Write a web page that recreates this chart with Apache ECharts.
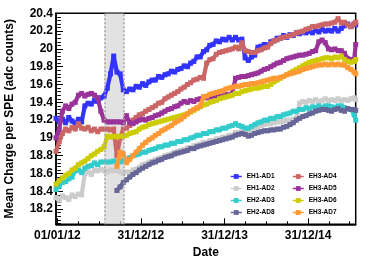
<!DOCTYPE html>
<html><head><meta charset="utf-8">
<script src="https://cdn.jsdelivr.net/npm/echarts@6/dist/echarts.min.js"></script>
<style>html,body{margin:0;padding:0;background:#fff}#c{width:374px;height:266px}</style>
</head><body><div id="c"></div>
<script>
// x positions: days since 01/01/2012
const days = [-6,8,22,36,50,64,78,92,106,120,
134,148,162,176,190,204,218,232,246,260,
274,288,302,316,330,344,358,372,386,400,
414,428,442,456,470,484,498,512,526,540,
554,568,582,596,610,624,638,652,666,680,
694,708,722,736,750,764,778,792,806,820,
834,848,862,876,890,904,918,932,946,960,
974,988,1002,1016,1030,1044,1058,1072,1086,1100,
1114,1128,1142,1156,1170,1184,1198,1212,1226,1240,
1254,1268,1282,1296,1303];

const eh1ad1 = [19.22,19.18,19.21,19.17,19.23,19.19,19.16,19.21,19.18,19.36,
19.39,19.38,19.42,19.41,19.45,19.47,19.56,19.72,19.92,19.74,
19.72,19.54,19.52,19.55,19.54,19.58,19.57,19.61,19.59,19.63,
19.65,19.65,19.69,19.68,19.71,19.72,19.75,19.74,19.77,19.78,
19.81,19.80,19.84,19.86,19.91,19.91,19.97,19.99,20.04,20.05,
20.09,20.08,20.11,20.10,20.13,20.10,20.13,20.10,20.11,19.90,
19.87,19.91,19.93,20.02,20.03,20.05,20.04,20.08,20.09,20.12,
20.12,20.15,20.13,20.16,20.15,20.18,20.17,20.19,20.18,20.20,
20.18,20.21,20.19,20.22,20.20,20.21,20.20,20.23,20.20,20.23,
20.26,20.28,20.25,20.28,20.27];

const eh1ad2 = [18.33,18.30,18.35,18.33,18.31,18.36,18.34,18.37,18.36,18.60,
18.62,18.59,18.64,18.63,18.65,18.63,18.62,18.64,18.63,18.64,
18.62,18.60,18.62,18.61,18.64,18.65,18.67,18.70,18.71,18.73,
18.74,18.76,18.77,18.78,18.80,18.81,18.82,18.84,18.85,18.86,
18.87,18.89,18.89,18.91,18.92,18.93,18.95,18.95,18.97,18.97,
18.99,18.99,19.01,19.01,19.03,19.03,19.06,19.06,19.08,19.07,
19.06,19.08,19.12,19.12,19.14,19.15,19.16,19.16,19.17,19.18,
19.18,19.19,19.20,19.20,19.21,19.22,19.39,19.41,19.40,19.42,
19.41,19.43,19.41,19.42,19.44,19.42,19.43,19.42,19.44,19.42,
19.43,19.42,19.44,19.45,19.43];

const eh2ad3 = [18.42,18.46,18.50,18.51,18.54,18.56,18.63,18.64,18.61,18.66,
18.68,18.69,18.72,18.70,18.73,18.73,18.73,18.73,18.74,18.73,
18.73,18.75,18.76,18.78,18.80,18.81,18.82,18.84,18.84,18.86,
18.87,18.88,18.90,18.90,18.92,18.92,18.94,18.94,18.96,18.96,
18.98,18.98,19.00,19.01,19.03,19.03,19.05,19.05,19.07,19.07,
19.09,19.09,19.11,19.11,19.13,19.14,19.16,19.14,19.13,19.11,
19.11,19.13,19.15,19.17,19.18,19.20,19.20,19.22,19.22,19.24,
19.24,19.26,19.27,19.28,19.30,19.30,19.32,19.32,19.34,19.33,
19.35,19.34,19.36,19.34,19.36,19.36,19.35,19.34,19.36,19.36,
19.34,19.33,19.32,19.26,19.20];

const eh2ad8 = [null,null,null,null,null,null,null,null,null,null,
null,null,null,null,null,null,null,null,null,18.41,
18.45,18.50,18.53,18.56,18.59,18.61,18.64,18.66,18.68,18.70,
18.72,18.73,18.75,18.76,18.78,18.79,18.80,18.82,18.83,18.84,
18.85,18.86,18.88,18.88,18.90,18.91,18.92,18.93,18.94,18.95,
18.96,18.97,18.98,18.99,19.00,19.01,19.03,19.04,19.05,19.04,
19.02,19.03,19.05,19.06,19.07,19.08,19.08,19.09,19.09,19.10,
19.10,19.12,19.13,19.15,19.17,19.20,19.22,19.24,19.25,19.27,
19.28,19.30,19.31,19.32,19.32,19.31,19.30,19.32,19.33,19.31,
19.30,19.33,19.32,19.32,19.31];

const eh3ad4 = [18.85,18.96,19.05,19.10,19.08,19.12,19.10,19.16,19.11,19.10,
19.12,19.08,19.10,19.07,19.10,19.10,19.10,19.09,19.10,18.80,
19.00,19.10,19.11,19.14,19.20,19.23,19.26,19.27,19.30,19.32,
19.34,19.36,19.39,19.40,19.44,19.46,19.48,19.50,19.52,19.55,
19.57,19.60,19.62,19.65,19.66,19.68,19.67,19.84,19.88,19.89,
19.94,19.96,19.97,19.98,19.99,20.00,20.02,20.00,20.07,19.98,
19.97,19.96,19.96,19.98,19.99,20.01,20.02,20.06,20.09,20.10,
20.12,20.13,20.14,20.15,20.16,20.18,20.19,20.20,20.22,20.23,
20.25,20.25,20.26,20.27,20.28,20.28,20.29,20.30,20.34,20.29,
20.30,20.27,20.25,20.28,20.30];

const eh3ad5 = [19.00,19.10,19.30,19.36,19.33,19.38,19.40,19.48,19.50,19.47,
19.49,19.50,19.48,19.45,19.30,19.20,19.18,19.18,19.18,19.18,
19.18,19.17,19.25,19.17,19.16,19.18,19.20,19.21,19.20,19.22,
19.23,19.25,19.26,19.28,19.30,19.32,19.33,19.35,19.36,19.39,
19.41,19.40,19.42,19.41,19.43,19.44,19.46,19.45,19.46,19.47,
19.47,19.48,19.47,19.49,19.48,19.50,19.67,19.68,19.69,19.69,
19.70,19.71,19.72,19.73,19.75,19.77,19.78,19.80,19.82,19.84,
19.85,19.87,19.89,19.90,19.91,19.92,19.93,19.93,19.94,19.95,
19.97,19.98,20.08,20.10,20.07,20.00,19.99,20.00,19.98,19.98,
19.95,19.89,19.88,19.87,20.05];

const eh3ad6 = [18.48,18.52,18.55,18.58,18.60,18.64,18.66,18.70,18.72,18.74,
18.77,18.80,18.82,18.85,18.87,18.90,19.02,19.01,19.02,19.01,
19.02,19.02,19.03,19.05,19.06,19.07,19.10,19.12,19.13,19.15,
19.16,19.17,19.18,19.19,19.20,19.21,19.22,19.23,19.24,19.25,
19.26,19.27,19.29,19.31,19.33,19.35,19.37,19.38,19.40,19.41,
19.42,19.44,19.45,19.46,19.47,19.48,19.50,19.50,19.52,19.53,
19.54,19.55,19.56,19.56,19.57,19.58,19.58,19.60,19.63,19.65,
19.67,19.69,19.71,19.73,19.75,19.77,19.79,19.81,19.83,19.85,
19.86,19.87,19.88,19.89,19.90,19.90,19.89,19.91,19.90,19.92,
19.88,19.86,19.85,19.86,19.88];

const eh3ad7 = [null,null,null,null,null,null,null,null,null,null,
null,null,null,null,null,null,null,null,null,18.68,
18.84,18.82,18.72,18.76,18.80,18.84,18.88,18.92,18.95,18.98,
19.00,19.03,19.05,19.08,19.10,19.12,19.14,19.17,19.19,19.21,
19.24,19.27,19.30,19.32,19.34,19.36,19.46,19.47,19.49,19.50,
19.51,19.52,19.53,19.55,19.56,19.57,19.58,19.58,19.59,19.60,
19.60,19.61,19.61,19.62,19.63,19.64,19.65,19.66,19.67,19.67,
19.68,19.69,19.71,19.72,19.73,19.74,19.75,19.77,19.78,19.79,
19.80,19.81,19.82,19.82,19.83,19.82,19.83,19.82,19.83,19.82,
19.82,19.79,19.77,19.74,19.72];

const seriesNames = ['EH1-AD1','EH1-AD2','EH2-AD3','EH2-AD8','EH3-AD4','EH3-AD5','EH3-AD6','EH3-AD7'];
const seriesValues = [eh1ad1,eh1ad2,eh2ad3,eh2ad8,eh3ad4,eh3ad5,eh3ad6,eh3ad7];
const seriesColors = ['#3333ff','#cccccc','#33cccc','#666699','#cc6666','#993399','#cccc00','#ff9933'];

const xMajorTicks = [0,365,730,1095];
const xMajorLabels = ['01/01/12','31/12/12','31/12/13','31/12/14'];
const xMinorTicks = [91,182,274,456,547,639,821,912,1004,1186,1277];
const yMajorTicks = [18.2,18.4,18.6,18.8,19,19.2,19.4,19.6,19.8,20,20.2,20.4];
const yMinorTicks = [18.04,18.08,18.12,18.16,18.24,18.28,18.32,18.36,18.44,18.48,18.52,18.56,
18.64,18.68,18.72,18.76,18.84,18.88,18.92,18.96,19.04,19.08,19.12,19.16,19.24,19.28,19.32,19.36,
19.44,19.48,19.52,19.56,19.64,19.68,19.72,19.76,19.84,19.88,19.92,19.96,20.04,20.08,20.12,20.16,
20.24,20.28,20.32,20.36];
const bandStart = 205, bandEnd = 292;

const FF = '"Liberation Sans", Arial, Helvetica, sans-serif';
const chart = echarts.init(document.getElementById('c'), null, {renderer:'canvas'});

const series = seriesNames.map((n,k)=>({
  name:n, type:'line', xAxisIndex:0, yAxisIndex:0,
  data: days.map((d,i)=>[d, seriesValues[k][i]]),
  connectNulls:false,
  symbol:'rect', symbolSize:5, showSymbol:true,
  lineStyle:{width:4.2, color:seriesColors[k]},
  itemStyle:{color:seriesColors[k]},
  emphasis:{disabled:true},
  z:2+k*0.01
}));
series.push({
  type:'line', name:'band', xAxisIndex:0, yAxisIndex:0, data:[], silent:true, z:5,
  markArea:{silent:true, itemStyle:{color:'rgba(208,208,208,0.62)', borderWidth:0},
    data:[[{xAxis:bandStart},{xAxis:bandEnd}]]},
  markLine:{silent:true, symbol:'none', label:{show:false},
    lineStyle:{type:[2,2], color:'#b0a4a4', width:1.5},
    data:[{xAxis:bandStart},{xAxis:bandEnd}]}
});

const legendBase = {orient:'vertical', itemWidth:11, itemHeight:6, itemGap:5, top:168,
  itemStyle:{}, lineStyle:{width:1.5},
  textStyle:{fontSize:6.5, fontWeight:'bold', fontFamily:FF, color:'#000'}, selectedMode:false};

chart.setOption({
  animation:false,
  grid:{left:56, right:18.3, top:13.3, bottom:41.7, show:true, borderColor:'#000', borderWidth:1.5,
    backgroundColor:'transparent', containLabel:false, outerBoundsMode:'none'},
  legend:[Object.assign({}, legendBase, {left:225, data:seriesNames.slice(0,4)}),
          Object.assign({}, legendBase, {left:287, data:seriesNames.slice(4)})],
  xAxis:[{
    type:'value', min:-6, max:1303, position:'bottom',
    name:'Date', nameLocation:'middle', nameGap:21,
    nameTextStyle:{fontSize:12, fontWeight:'bold', fontFamily:FF, color:'#000'},
    axisLine:{show:true, onZero:false, lineStyle:{color:'#000', width:1.5}},
    axisTick:{show:true, inside:true, length:6, customValues:xMajorTicks, lineStyle:{color:'#000', width:1}},
    axisLabel:{show:true, customValues:xMajorTicks, margin:5, fontSize:12, fontWeight:'bold', fontFamily:FF, color:'#000',
      formatter:(v)=>{const i=xMajorTicks.indexOf(v); return i>=0?xMajorLabels[i]:'';}},
    splitLine:{show:false}
  },{
    type:'value', min:-6, max:1303, position:'bottom',
    axisLine:{show:false}, axisLabel:{show:false}, splitLine:{show:false},
    axisTick:{show:true, inside:true, length:3, customValues:xMinorTicks, lineStyle:{color:'#000', width:1}}
  }],
  yAxis:[{
    type:'value', min:18.03, max:20.4, position:'left',
    name:'Mean Charge per SPE (adc counts)', nameLocation:'middle', nameGap:40, nameRotate:90,
    nameTextStyle:{fontSize:12, fontWeight:'bold', fontFamily:FF, color:'#000'},
    axisLine:{show:true, onZero:false, lineStyle:{color:'#000', width:1.5}},
    axisTick:{show:true, inside:true, length:7, customValues:yMajorTicks, lineStyle:{color:'#000', width:1}},
    axisLabel:{show:true, customValues:yMajorTicks, margin:3, fontSize:12, fontWeight:'bold', fontFamily:FF, color:'#000'},
    splitLine:{show:false}
  },{
    type:'value', min:18.03, max:20.4, position:'left',
    axisLine:{show:false}, axisLabel:{show:false}, splitLine:{show:false},
    axisTick:{show:true, inside:true, length:3.5, customValues:yMinorTicks, lineStyle:{color:'#000', width:1}}
  }],
  series:series
});
</script></body></html>
